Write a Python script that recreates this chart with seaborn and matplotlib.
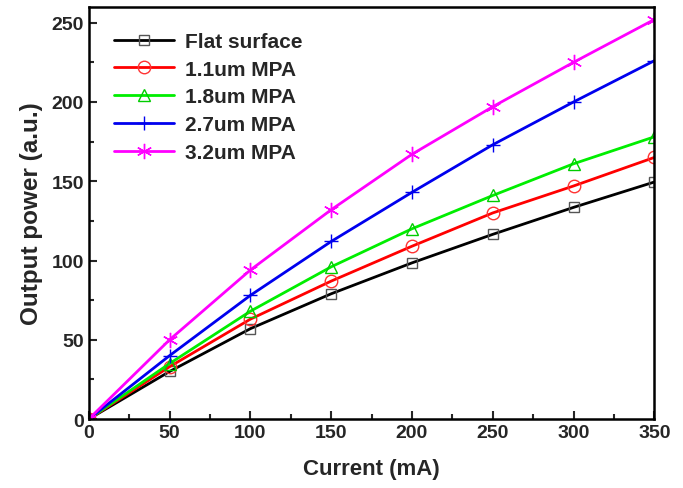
import matplotlib
matplotlib.use("Agg")
import matplotlib.pyplot as plt
import seaborn as sns
import numpy as np
from matplotlib.ticker import MultipleLocator

sns.set_theme(style="ticks")
plt.rcParams['font.family'] = ['Liberation Sans', 'DejaVu Sans']
plt.rcParams['font.weight'] = 'bold'

current = [0, 50, 100, 150, 200, 250, 300, 350]
flat = [0, 30, 57, 79, 98.5, 116.5, 133.5, 149.5]
mpa_11 = [0, 33, 63, 87, 109, 130, 147, 165]
mpa_18 = [0, 35, 68, 96, 120, 141, 161, 178]
mpa_27 = [0, 40, 78, 112, 143, 173, 200, 226]
mpa_32 = [0, 50, 94, 132, 167, 197, 225, 252]
labels = ["Flat surface", "1.1um MPA", "1.8um MPA", "2.7um MPA", "3.2um MPA"]

series = [flat, mpa_11, mpa_18, mpa_27, mpa_32]
colors = ["black", "#ff0000", "#00ee00", "#0000ee", "#ff00ff"]
markers = ["s", "o", "^", "+", (6, 2, 0)]
msizes = [7, 9, 9, 10, 11]
mecs = ["#555555", "#ff3333", "#00cc00", "#0000ee", "#ff00ff"]

fig = plt.figure(figsize=(6.83, 4.89), dpi=100)
ax = fig.add_axes([0.130, 0.141, 0.828, 0.843])

for vals, lab, c, m, ms, mec in zip(series, labels, colors, markers, msizes, mecs):
    sns.lineplot(x=current, y=vals, ax=ax, color=c, marker=m, markersize=ms,
                 mfc='none', mec=mec, mew=1.0, lw=2, label=lab)

ax.set_xlim(0, 350)
ax.set_ylim(0, 260)
ax.xaxis.set_major_locator(MultipleLocator(50))
ax.xaxis.set_minor_locator(MultipleLocator(25))
ax.yaxis.set_major_locator(MultipleLocator(50))
ax.yaxis.set_minor_locator(MultipleLocator(25))
ax.tick_params(which='major', direction='in', length=6, width=1.5, labelsize=14)
ax.tick_params(which='minor', direction='in', length=3.5, width=1.5)
for lbl in ax.get_xticklabels() + ax.get_yticklabels():
    lbl.set_fontweight('bold')
for s in ax.spines.values():
    s.set_linewidth(1.8)
    s.set_color('black')

ax.set_xlabel("Current (mA)", fontsize=16, fontweight='bold', labelpad=12)
ax.set_ylabel("Output power (a.u.)", fontsize=17.5, fontweight='bold', labelpad=6)

leg = ax.legend(loc='upper left', frameon=False, handlelength=2.9,
                borderaxespad=0.8, labelspacing=0.42, handletextpad=0.5,
                prop={'weight': 'bold', 'size': 15})

fig.savefig("out.png", dpi=100)
